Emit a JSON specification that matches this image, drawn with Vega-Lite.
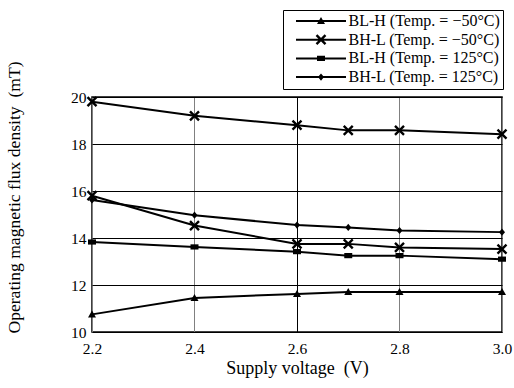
{
  "$schema": "https://vega.github.io/schema/vega-lite/v6.json",
  "width": 410,
  "height": 235,
  "autosize": {"type": "none"},
  "padding": {"left": 92, "top": 97, "right": 12, "bottom": 56},
  "background": "white",
  "config": {
    "font": "Liberation Serif",
    "view": {"stroke": "black", "strokeWidth": 1.5},
    "axis": {
      "domain": false,
      "ticks": false,
      "labelFlush": false,
      "labelFont": "Liberation Serif",
      "labelFontSize": 15.5,
      "labelColor": "black",
      "titleFont": "Liberation Serif",
      "titleFontWeight": "normal",
      "titleColor": "black",
      "gridOpacity": 1,
      "gridWidth": 1
    }
  },
  "data": {
    "values": [
      {"v": 2.2, "b": 10.75, "series": "A", "label": "BL-H (Temp. = −50°C)"},
      {"v": 2.4, "b": 11.45, "series": "A", "label": "BL-H (Temp. = −50°C)"},
      {"v": 2.6, "b": 11.62, "series": "A", "label": "BL-H (Temp. = −50°C)"},
      {"v": 2.7, "b": 11.7, "series": "A", "label": "BL-H (Temp. = −50°C)"},
      {"v": 2.8, "b": 11.7, "series": "A", "label": "BL-H (Temp. = −50°C)"},
      {"v": 3.0, "b": 11.7, "series": "A", "label": "BL-H (Temp. = −50°C)"},
      {"v": 2.2, "b": 19.8, "series": "B", "label": "BH-L (Temp. = −50°C)"},
      {"v": 2.4, "b": 19.2, "series": "B", "label": "BH-L (Temp. = −50°C)"},
      {"v": 2.6, "b": 18.8, "series": "B", "label": "BH-L (Temp. = −50°C)"},
      {"v": 2.7, "b": 18.58, "series": "B", "label": "BH-L (Temp. = −50°C)"},
      {"v": 2.8, "b": 18.58, "series": "B", "label": "BH-L (Temp. = −50°C)"},
      {"v": 3.0, "b": 18.42, "series": "B", "label": "BH-L (Temp. = −50°C)"},
      {"v": 2.2, "b": 15.8, "series": "E", "label": "BH-L (Temp. = −50°C)"},
      {"v": 2.4, "b": 14.53, "series": "E", "label": "BH-L (Temp. = −50°C)"},
      {"v": 2.6, "b": 13.75, "series": "E", "label": "BH-L (Temp. = −50°C)"},
      {"v": 2.7, "b": 13.75, "series": "E", "label": "BH-L (Temp. = −50°C)"},
      {"v": 2.8, "b": 13.6, "series": "E", "label": "BH-L (Temp. = −50°C)"},
      {"v": 3.0, "b": 13.53, "series": "E", "label": "BH-L (Temp. = −50°C)"},
      {"v": 2.2, "b": 13.83, "series": "C", "label": "BL-H (Temp. = 125°C)"},
      {"v": 2.4, "b": 13.62, "series": "C", "label": "BL-H (Temp. = 125°C)"},
      {"v": 2.6, "b": 13.42, "series": "C", "label": "BL-H (Temp. = 125°C)"},
      {"v": 2.7, "b": 13.25, "series": "C", "label": "BL-H (Temp. = 125°C)"},
      {"v": 2.8, "b": 13.25, "series": "C", "label": "BL-H (Temp. = 125°C)"},
      {"v": 3.0, "b": 13.1, "series": "C", "label": "BL-H (Temp. = 125°C)"},
      {"v": 2.2, "b": 15.62, "series": "D", "label": "BH-L (Temp. = 125°C)"},
      {"v": 2.4, "b": 14.97, "series": "D", "label": "BH-L (Temp. = 125°C)"},
      {"v": 2.6, "b": 14.55, "series": "D", "label": "BH-L (Temp. = 125°C)"},
      {"v": 2.7, "b": 14.45, "series": "D", "label": "BH-L (Temp. = 125°C)"},
      {"v": 2.8, "b": 14.32, "series": "D", "label": "BH-L (Temp. = 125°C)"},
      {"v": 3.0, "b": 14.25, "series": "D", "label": "BH-L (Temp. = 125°C)"}
    ]
  },
  "encoding": {
    "x": {
      "field": "v",
      "type": "quantitative",
      "title": "Supply voltage \u00a0(V)",
      "scale": {"domain": [2.2, 3.0], "zero": false, "nice": false},
      "axis": {
        "values": [2.2, 2.4, 2.6, 2.8, 3.0],
        "format": ".1f",
        "grid": true,
        "gridColor": {"condition": {"test": "abs(datum.value - 2.6) < 0.01", "value": "black"}, "value": "#808080"},
        "labelPadding": 9,
        "titleFontSize": 18,
        "titlePadding": 3
      }
    },
    "y": {
      "field": "b",
      "type": "quantitative",
      "title": "Operating magnetic flux density \u00a0(mT)",
      "scale": {"domain": [10, 20], "zero": false, "nice": false},
      "axis": {
        "values": [10, 12, 14, 16, 18, 20],
        "grid": true,
        "gridColor": "black",
        "labelPadding": 6,
        "titleFontSize": 17.6,
        "titlePadding": 47,
        "titleY": 100
      }
    }
  },
  "layer": [
    {
      "mark": {"type": "line", "color": "black", "strokeWidth": 2},
      "encoding": {"detail": {"field": "series"}}
    },
    {
      "mark": {"type": "point", "filled": true, "color": "black", "opacity": 1, "size": 64, "strokeWidth": 0},
      "encoding": {
        "shape": {
          "field": "label",
          "scale": {
            "domain": ["BL-H (Temp. = −50°C)", "BH-L (Temp. = −50°C)", "BL-H (Temp. = 125°C)", "BH-L (Temp. = 125°C)"],
            "range": [
              "M0,-1L1,0.75L-1,0.75Z",
              "M-0.915,-1.335L1.335,0.915L0.915,1.335L-1.335,-0.915ZM-1.335,0.915L0.915,-1.335L1.335,-0.915L-0.915,1.335Z",
              "M-1,-0.65H1V0.65H-1Z",
              "M0,-0.9L0.75,0L0,0.9L-0.75,0Z"
            ]
          },
          "legend": null
        }
      }
    },
    {
      "transform": [{"filter": "false"}],
      "mark": {"type": "point", "filled": true, "color": "black", "opacity": 1, "size": 64, "strokeWidth": 0},
      "encoding": {
        "shape": {
          "field": "label",
          "scale": {
            "domain": ["BL-H (Temp. = −50°C)", "BH-L (Temp. = −50°C)", "BL-H (Temp. = 125°C)", "BH-L (Temp. = 125°C)"],
            "range": [
              "M0.5,-0.25H13V0.25H0.5ZM6.75,-1L7.75,0.75L5.75,0.75Z",
              "M0.5,-0.25H13V0.25H0.5ZM5.835,-1.335L8.085,0.915L7.665,1.335L5.415,-0.915ZM5.415,0.915L7.665,-1.335L8.085,-0.915L5.835,1.335Z",
              "M0.5,-0.25H13V0.25H0.5ZM5.75,-0.65H7.75V0.65H5.75Z",
              "M0.5,-0.25H13V0.25H0.5ZM6.75,-0.9L7.5,0L6.75,0.9L6,0Z"
            ]
          },
          "legend": {
            "title": null,
            "orient": "none",
            "legendX": 191,
            "legendY": -87,
            "labelFont": "Liberation Serif",
            "labelFontSize": 16,
            "labelColor": "black",
            "labelOffset": 46.5,
            "labelLimit": 300,
            "symbolSize": 64,
            "symbolStrokeWidth": 0,
            "symbolFillColor": "black",
            "symbolOpacity": 1,
            "strokeColor": "black",
            "fillColor": "white",
            "padding": 3,
            "rowPadding": 2.7
          }
        }
      }
    }
  ],
  "resolve": {"scale": {"shape": "independent"}}
}
